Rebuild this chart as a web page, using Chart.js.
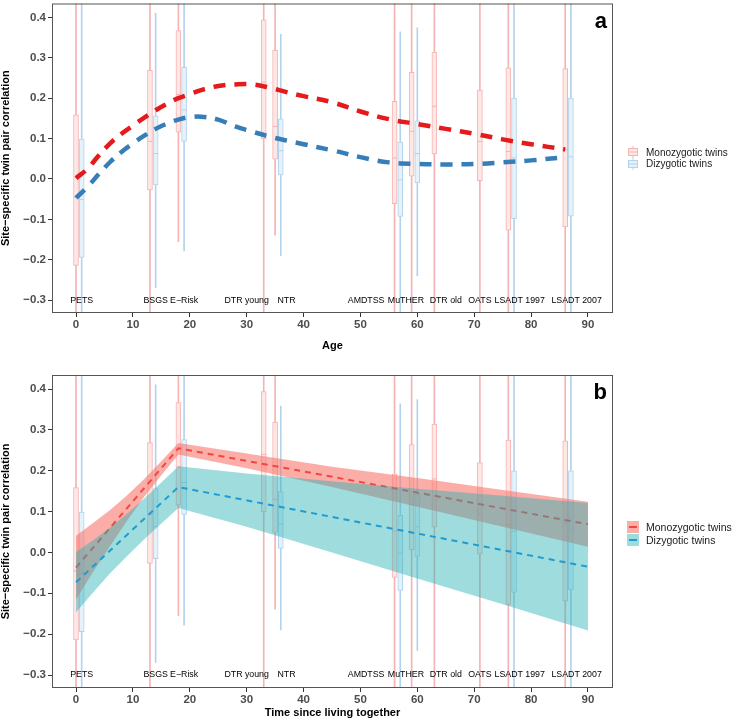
<!DOCTYPE html>
<html>
<head>
<meta charset="utf-8">
<script src="https://cdn.jsdelivr.net/npm/chart.js@4.4.1/dist/chart.umd.min.js"></script>
<style>
  body { margin: 0; background: #fff; width: 736px; height: 728px; position: relative; overflow: hidden; font-family: "Liberation Sans", Arial, Helvetica, sans-serif; }
  .panel { position: absolute; left: 0; width: 736px; height: 364px; }
  .key { position: absolute; left: 627px; height: 12px; display: flex; align-items: center; font-size: 10px; color: #1a1a1a; white-space: nowrap; }
  .key span { margin-left: 7px; }
</style>
</head>
<body>
<div class="panel" style="top:0"><canvas id="chartA"></canvas></div>
<div class="panel" style="top:364px"><canvas id="chartB"></canvas></div>

<div class="key" style="top:146px">
  <svg width="12" height="12"><line x1="6" y1="0" x2="6" y2="12" stroke="#f6b3b3"/><rect x="1.5" y="2.5" width="9" height="7" fill="#fde8e6" stroke="#f6b3b3"/><line x1="1.5" y1="6" x2="10.5" y2="6" stroke="#f6b3b3"/></svg>
  <span>Monozygotic twins</span>
</div>
<div class="key" style="top:157.5px">
  <svg width="12" height="12"><line x1="6" y1="0" x2="6" y2="12" stroke="#b3d3ed"/><rect x="1.5" y="2.5" width="9" height="7" fill="#e6f2fa" stroke="#b3d3ed"/><line x1="1.5" y1="6" x2="10.5" y2="6" stroke="#b3d3ed"/></svg>
  <span>Dizygotic twins</span>
</div>

<div class="key" style="top:520.5px; font-size:10.5px">
  <svg width="12" height="12"><rect x="0" y="0" width="12" height="12" fill="rgba(248,118,109,0.6)"/><line x1="2" y1="6" x2="10" y2="6" stroke="#f0483e" stroke-width="2"/></svg>
  <span>Monozygotic twins</span>
</div>
<div class="key" style="top:533.5px; font-size:10.5px">
  <svg width="12" height="12"><rect x="0" y="0" width="12" height="12" fill="rgba(40,178,182,0.45)"/><line x1="2" y1="6" x2="10" y2="6" stroke="#1f9bd1" stroke-width="2"/></svg>
  <span>Dizygotic twins</span>
</div>

<script>
// ===== DATA: STUDIES =====
const studies = ['PETS', 'BSGS', 'E\u2212Risk', 'DTR young', 'NTR', 'AMDTSS', 'MuTHER', 'DTR old', 'OATS', 'LSADT 1997', 'LSADT 2007'];
const labelX = [1, 14, 19, 30, 37, 51, 58, 65, 71, 78, 88];
const labelY = -0.3;

// ===== DATA: MONOZYGOTIC BOXES =====
const mzX = [0, 13, 18, 33, 35, 56, 59, 63, 71, 76, 86];
const mzLow = [-0.5, -0.5, -0.155, -0.5, -0.139, -0.5, -0.5, -0.5, -0.5, -0.5, -0.5];
const mzQ1 = [-0.214, -0.027, 0.116, 0.099, 0.049, -0.061, 0.007, 0.062, -0.004, -0.127, -0.119];
const mzMed = [-0.045, 0.093, 0.209, 0.240, 0.130, 0.052, 0.118, 0.180, 0.093, 0.068, 0.073];
const mzQ3 = [0.159, 0.269, 0.367, 0.394, 0.319, 0.192, 0.264, 0.314, 0.220, 0.275, 0.273];
const mzHigh = [0.6, 0.6, 0.6, 0.6, 0.6, 0.6, 0.6, 0.6, 0.6, 0.6, 0.6];

// ===== DATA: DIZYGOTIC BOXES =====
const dzX = [1, 14, 19, 36, 57, 60, 77, 87];
const dzLow = [-0.5, -0.269, -0.178, -0.19, -0.5, -0.24, -0.5, -0.5];
const dzQ1 = [-0.194, -0.015, 0.093, 0.010, -0.093, -0.010, -0.098, -0.092];
const dzMed = [-0.051, 0.063, 0.171, 0.070, -0.002, 0.063, 0.052, 0.055];
const dzQ3 = [0.099, 0.156, 0.276, 0.149, 0.091, 0.144, 0.200, 0.200];
const dzHigh = [0.6, 0.41, 0.6, 0.358, 0.364, 0.374, 0.6, 0.6];

// ===== DATA: PANEL A CURVES (by age) =====
const ageX = [0, 2, 4, 6, 8, 10, 12, 14, 16, 18, 20, 22, 25, 28, 31, 34, 37, 40, 45, 50, 55, 60, 65, 70, 75, 80, 86];
const mzCurve = [0.002, 0.025, 0.058, 0.088, 0.112, 0.132, 0.152, 0.170, 0.186, 0.200, 0.210, 0.220, 0.230, 0.234, 0.234, 0.226, 0.215, 0.205, 0.190, 0.167, 0.148, 0.136, 0.124, 0.112, 0.098, 0.086, 0.073];
const dzCurve = [-0.047, -0.020, 0.012, 0.042, 0.067, 0.088, 0.107, 0.124, 0.137, 0.147, 0.153, 0.154, 0.147, 0.130, 0.117, 0.105, 0.095, 0.086, 0.071, 0.054, 0.041, 0.037, 0.036, 0.037, 0.041, 0.046, 0.054];

// ===== DATA: PANEL B FITS AND BANDS (time since living together) =====
const fitX = [0, 18, 90];
const mzFit = [-0.037, 0.255, 0.069];
const dzFit = [-0.073, 0.160, -0.035];
const bandX = [0, 3, 6, 9, 12, 15, 18, 30, 45, 60, 75, 90];
const mzBandLow = [-0.115, -0.048, 0.016, 0.078, 0.136, 0.189, 0.240, 0.206, 0.160, 0.112, 0.063, 0.014];
const mzBandHigh = [0.041, 0.072, 0.104, 0.140, 0.180, 0.223, 0.268, 0.242, 0.210, 0.182, 0.153, 0.124];
const dzBandLow = [-0.147, -0.098, -0.051, -0.009, 0.032, 0.071, 0.109, 0.063, 0.000, -0.064, -0.127, -0.191];
const dzBandHigh = [0.001, 0.030, 0.061, 0.095, 0.132, 0.171, 0.211, 0.193, 0.174, 0.156, 0.139, 0.121];

// ===== AXIS RANGES =====
const xMin = -4.22, xMax = 94.4;
const yMin = -0.3318, yMax = 0.4343;

Chart.defaults.font.family = '"Liberation Sans", Arial, Helvetica, sans-serif';
Chart.defaults.color = '#4d4d4d';

const MZ_LINE = '#f6b3b3', MZ_FILL = '#fde8e6';
const DZ_LINE = '#b3d3ed', DZ_FILL = '#e6f2fa';

function pts(xs, ys) {
  return xs.map((x, i) => ({ x, y: ys[i] }));
}

function fmtCorr(v) {
  const r = Math.round(v * 10) / 10;
  return (r < 0 ? '\u2212' : '') + Math.abs(r).toFixed(1);
}

// ===== PLUGIN: STUDY NAMES, PANEL LETTER, BORDER =====
const panelDecor = {
  id: 'panelDecor',
  afterDatasetsDraw(chart, args, opts) {
    const { ctx, chartArea: a, scales: { x, y } } = chart;
    ctx.save();
    ctx.font = '8.8px "Liberation Sans", Arial, sans-serif';
    ctx.fillStyle = '#000';
    ctx.textAlign = 'center';
    ctx.textBaseline = 'middle';
    studies.forEach((s, i) => {
      ctx.fillText(s, x.getPixelForValue(labelX[i]), y.getPixelForValue(labelY));
    });
    ctx.font = 'bold 22px "Liberation Sans", Arial, sans-serif';
    ctx.textAlign = 'right';
    ctx.textBaseline = 'alphabetic';
    ctx.fillText(opts.letter, a.right - 6, a.top + 24);
    ctx.strokeStyle = '#555';
    ctx.lineWidth = 1;
    ctx.strokeRect(a.left + 0.5, a.top + 0.5, a.right - a.left - 1, a.bottom - a.top - 1);
    ctx.restore();
  }
};

// ===== BOXPLOT DATASETS =====
function boxSeries(xs, lo, q1, med, q3, hi, line, fill, order) {
  return [
    { type: 'bar', data: xs.map((x, i) => ({ x, y: [lo[i], hi[i]] })), backgroundColor: line, borderWidth: 0,
      barThickness: 1, maxBarThickness: 1, grouped: false, order: order + 2, clip: 0 },
    { type: 'bar', data: xs.map((x, i) => ({ x, y: [q1[i], q3[i]] })), backgroundColor: fill, borderColor: line,
      borderWidth: 1, borderSkipped: false, barThickness: 5, maxBarThickness: 5, grouped: false, order: order + 1, clip: 0 },
    { type: 'scatter', data: pts(xs, med), pointStyle: 'line', pointRadius: 2.5, pointHoverRadius: 2.5,
      pointBorderColor: line, pointBorderWidth: 1, order: order, clip: 0 }
  ];
}

function buildOptions(letter, xTitle, xHeight, titlePad, padTop) {
  return {
    responsive: true,
    maintainAspectRatio: false,
    animation: false,
    events: [],
    layout: { padding: { left: 0, right: 123, top: padTop, bottom: 0 } },
    plugins: { legend: { display: false }, tooltip: { enabled: false }, panelDecor: { letter } },
    scales: {
      x: {
        type: 'linear', min: xMin, max: xMax, offset: false,
        grid: { drawOnChartArea: false, offset: false, color: '#333', tickLength: 4 },
        border: { display: false },
        ticks: { stepSize: 10, includeBounds: false, padding: 1, maxRotation: 0, font: { size: 11.5, weight: 'bold' } },
        title: { display: true, text: xTitle, color: '#000', font: { size: 11, weight: 'bold' }, padding: { top: 0, bottom: titlePad } },
        afterFit: s => { s.height = xHeight; s.paddingLeft = 0; s.paddingRight = 0; }
      },
      y: {
        type: 'linear', min: yMin, max: yMax,
        grid: { drawOnChartArea: false, color: '#333', tickLength: 4 },
        border: { display: false },
        ticks: { stepSize: 0.1, includeBounds: false, padding: 2, font: { size: 11.5, weight: 'bold' }, callback: fmtCorr },
        title: { display: true, text: 'Site\u2212specific twin pair correlation', color: '#000',
          font: { size: 11, weight: 'bold', lineHeight: 1 }, padding: { top: 0, bottom: 0 } },
        afterFit: s => { s.width = 52; s.paddingTop = 0; s.paddingBottom = 0; }
      }
    }
  };
}

// ===== PANEL A: AGE =====
function drawPanelA() {
  const datasets = [
    ...boxSeries(mzX, mzLow, mzQ1, mzMed, mzQ3, mzHigh, MZ_LINE, MZ_FILL, 10),
    ...boxSeries(dzX, dzLow, dzQ1, dzMed, dzQ3, dzHigh, DZ_LINE, DZ_FILL, 6),
    { type: 'line', data: pts(ageX, mzCurve), borderColor: '#e41a1c', borderWidth: 4.5, borderDash: [12, 9],
      borderCapStyle: 'butt', pointRadius: 0, tension: 0.4, fill: false, order: 2, clip: 0 },
    { type: 'line', data: pts(ageX, dzCurve), borderColor: '#377eb8', borderWidth: 4.5, borderDash: [12, 9],
      borderCapStyle: 'butt', pointRadius: 0, tension: 0.4, fill: false, order: 1, clip: 0 }
  ];
  new Chart(document.getElementById('chartA'), {
    type: 'bar',
    data: { datasets },
    options: buildOptions('a', 'Age', 51, 11.4, 0),
    plugins: [panelDecor]
  });
}

// ===== PANEL B: TIME SINCE LIVING TOGETHER =====
function drawPanelB() {
  const datasets = [
    ...boxSeries(mzX, mzLow, mzQ1, mzMed, mzQ3, mzHigh, MZ_LINE, MZ_FILL, 20),
    ...boxSeries(dzX, dzLow, dzQ1, dzMed, dzQ3, dzHigh, DZ_LINE, DZ_FILL, 16),
    { type: 'line', data: pts(bandX, mzBandLow), borderWidth: 0, pointRadius: 0, tension: 0, fill: false, order: 9, clip: 0 },
    { type: 'line', data: pts(bandX, mzBandHigh), borderWidth: 0, pointRadius: 0, tension: 0, fill: '-1',
      backgroundColor: 'rgba(248,118,109,0.6)', order: 8, clip: 0 },
    { type: 'line', data: pts(fitX, mzFit), borderColor: '#f0483e', borderWidth: 2, borderDash: [6, 5],
      borderCapStyle: 'butt', pointRadius: 0, tension: 0, fill: false, order: 7, clip: 0 },
    { type: 'line', data: pts(bandX, dzBandLow), borderWidth: 0, pointRadius: 0, tension: 0, fill: false, order: 6, clip: 0 },
    { type: 'line', data: pts(bandX, dzBandHigh), borderWidth: 0, pointRadius: 0, tension: 0, fill: '-1',
      backgroundColor: 'rgba(40,178,182,0.45)', order: 5, clip: 0 },
    { type: 'line', data: pts(fitX, dzFit), borderColor: '#1f9bd1', borderWidth: 2, borderDash: [6, 5],
      borderCapStyle: 'butt', pointRadius: 0, tension: 0, fill: false, order: 4, clip: 0 }
  ];
  new Chart(document.getElementById('chartB'), {
    type: 'bar',
    data: { datasets },
    options: buildOptions('b', 'Time since living together', 40, 8.4, 11),
    plugins: [panelDecor]
  });
}

drawPanelA();
drawPanelB();
</script>
</body>
</html>
